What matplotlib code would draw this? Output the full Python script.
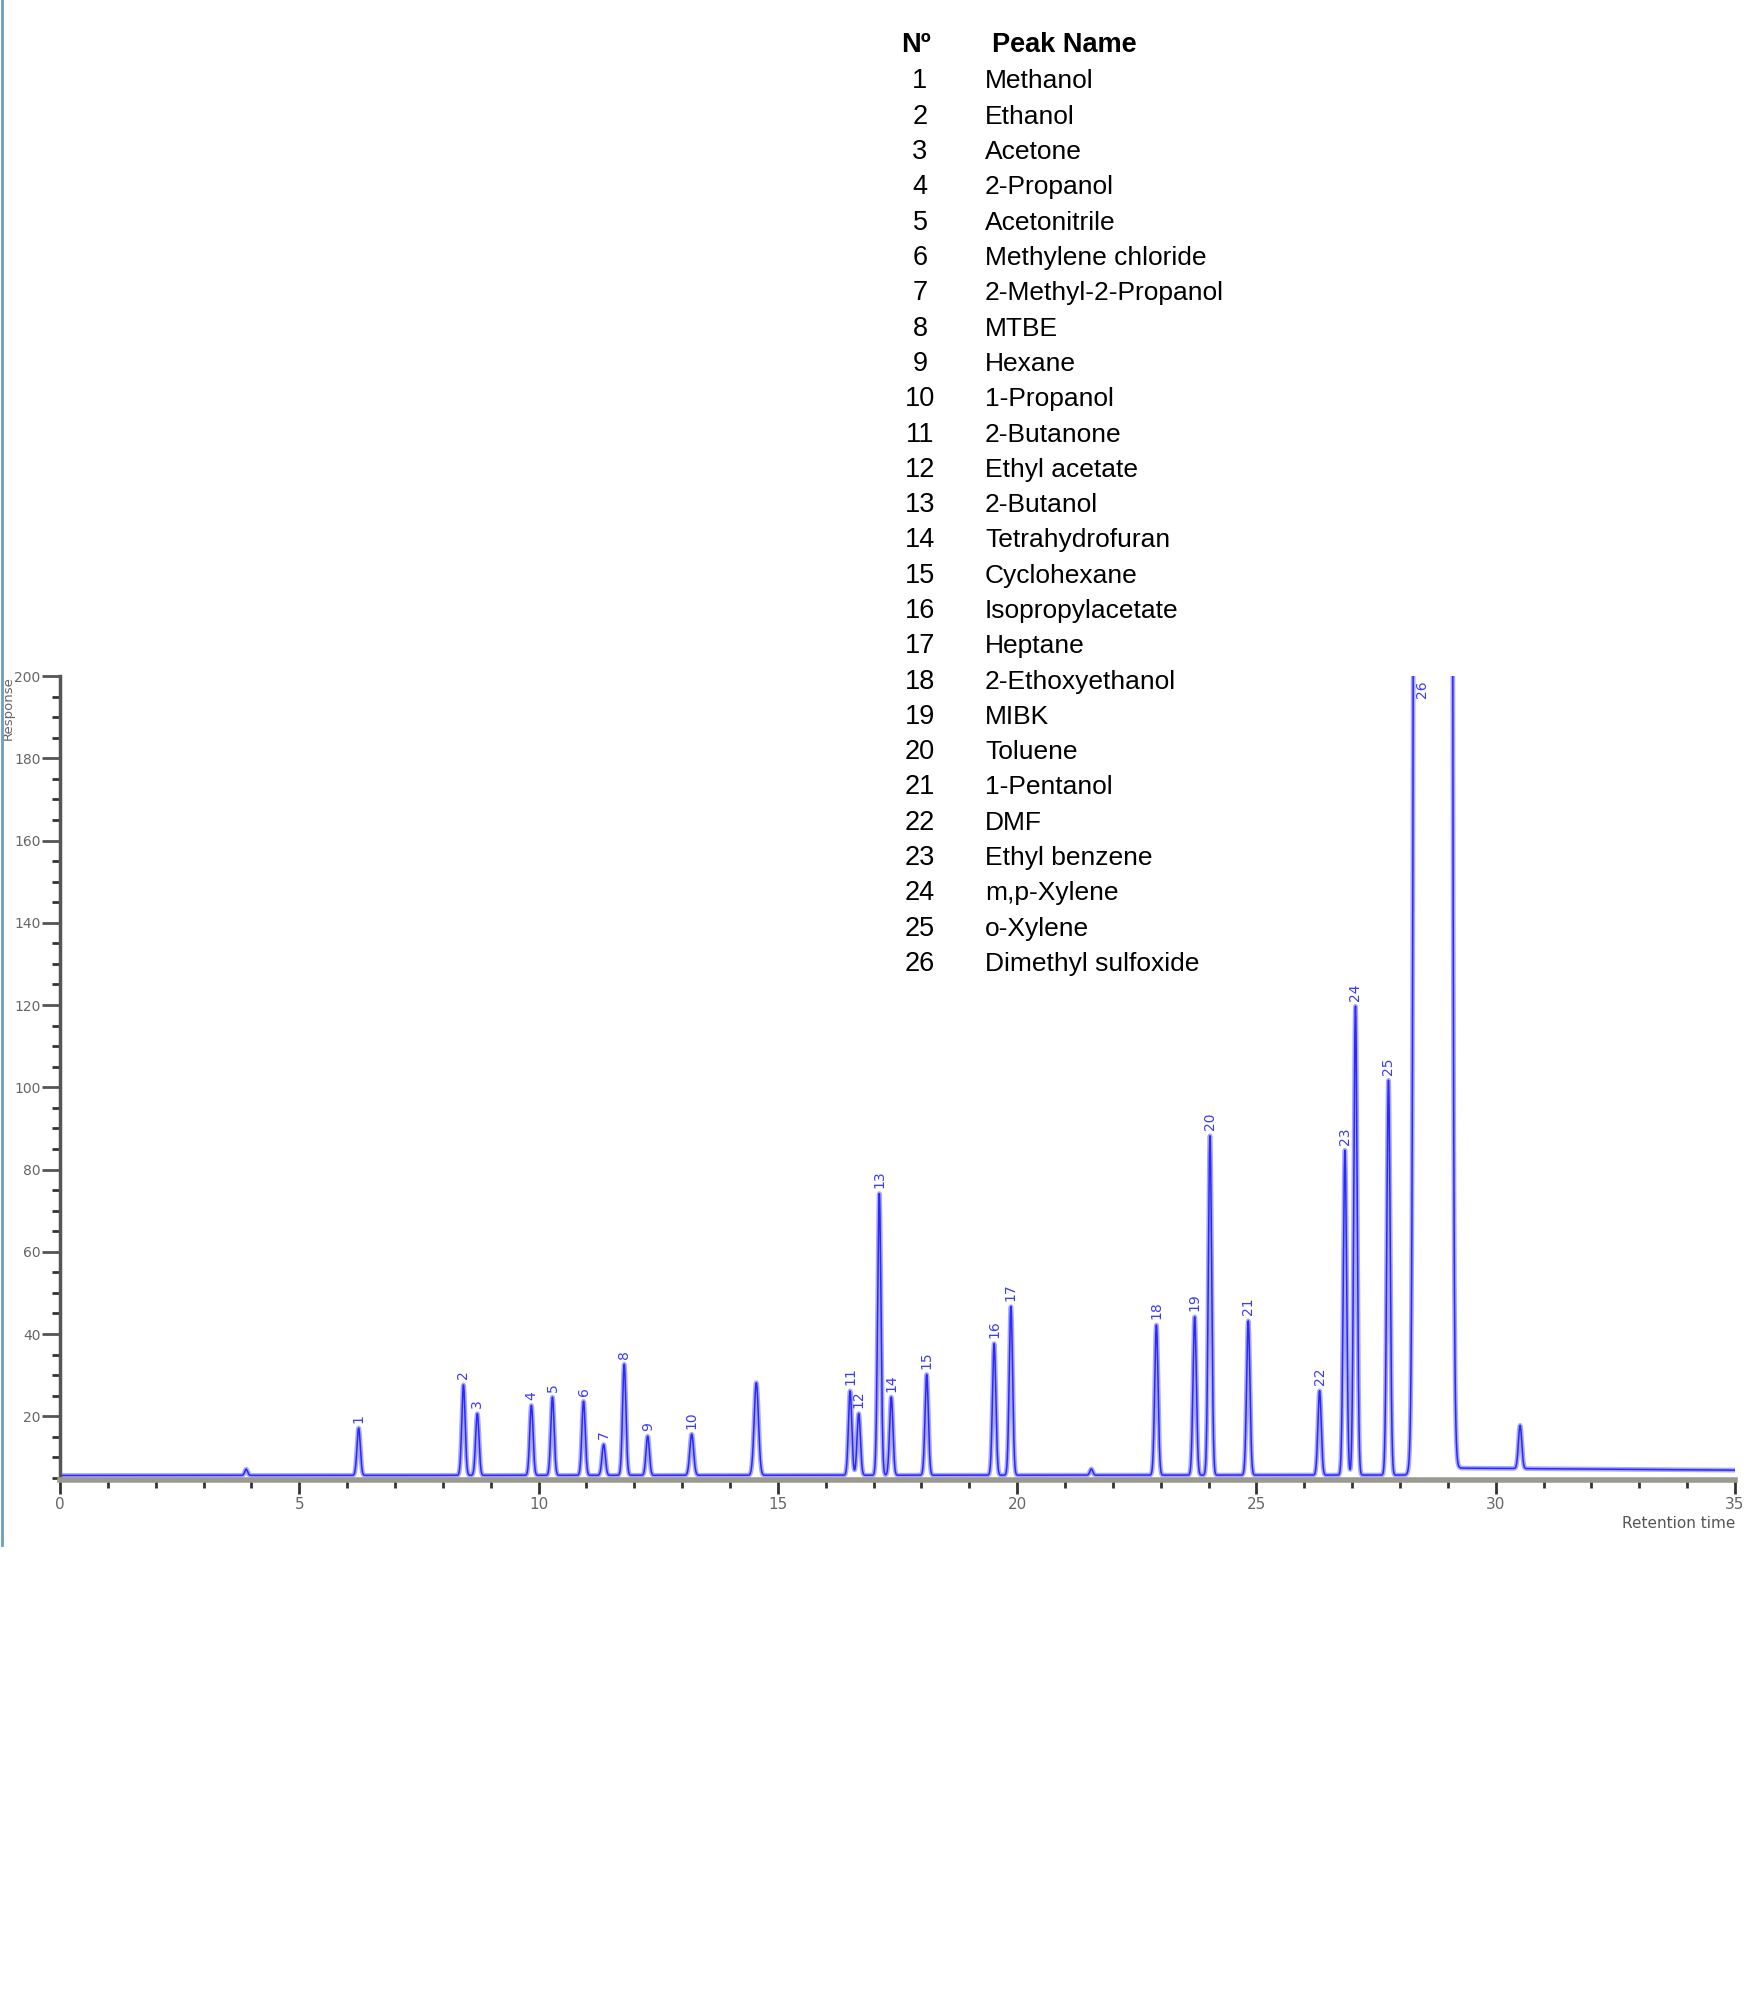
import numpy as np
import matplotlib
matplotlib.use("Agg")
import matplotlib.pyplot as plt
from matplotlib.lines import Line2D
from matplotlib.ticker import MultipleLocator

# peaks (retention time in min, response)
peak_labels = ["", "1", "2", "3", "4", "5", "6", "7", "8", "9", "10", "",
               "11", "12", "13", "14", "15", "16", "17", "",
               "18", "19", "20", "21", "22", "23", "24", "25", "26", ""]
peak_times = [3.89, 6.24, 8.43, 8.72, 9.85, 10.29, 10.94, 11.36, 11.79, 12.28, 13.2, 14.55,
              16.51, 16.69, 17.12, 17.37, 18.11, 19.52, 19.87, 21.55,
              22.91, 23.71, 24.03, 24.83, 26.32, 26.85, 27.07, 27.76, 28.69, 30.51]
peak_heights = [1.5, 11.5, 22.0, 15.0, 17.0, 19.0, 18.0, 7.5, 27.0, 9.5, 10.0, 22.5,
                20.5, 15.0, 68.5, 19.0, 24.5, 32.0, 41.0, 1.5,
                36.5, 38.5, 82.5, 37.5, 20.5, 79.0, 114.0, 96.0, 1e6, 10.5]
peak_widths = [0.03, 0.035, 0.035, 0.035, 0.035, 0.035, 0.035, 0.035, 0.035, 0.035, 0.04, 0.045,
               0.035, 0.035, 0.035, 0.035, 0.035, 0.035, 0.035, 0.03,
               0.035, 0.035, 0.035, 0.035, 0.035, 0.035, 0.035, 0.035, 0.10, 0.035]

# baseline level before / after the DMSO peak
base_times = [0, 28.2, 29.1, 35]
base_levels = [5.6, 5.7, 7.4, 6.9]

legend_no = [str(i) for i in range(1, 27)]
legend_names = ["Methanol", "Ethanol", "Acetone", "2-Propanol", "Acetonitrile",
                "Methylene chloride", "2-Methyl-2-Propanol", "MTBE", "Hexane",
                "1-Propanol", "2-Butanone", "Ethyl acetate", "2-Butanol",
                "Tetrahydrofuran", "Cyclohexane", "Isopropylacetate", "Heptane",
                "2-Ethoxyethanol", "MIBK", "Toluene", "1-Pentanol", "DMF",
                "Ethyl benzene", "m,p-Xylene", "o-Xylene", "Dimethyl sulfoxide"]

t = np.linspace(0, 35, 14001)
signal = np.interp(t, base_times, base_levels)
for tr, h, w in zip(peak_times, peak_heights, peak_widths):
    signal = signal + h * np.exp(-0.5 * ((t - tr) / w) ** 2)

fig = plt.figure(figsize=(17.5, 20), dpi=100)
ax = fig.add_axes([0.0343, 0.26, 0.9571, 0.402])

ax.plot(t, signal, color="#a8a8ff", lw=3.4, solid_joinstyle="round")
ax.plot(t, signal, color="#2828ff", lw=1.1)

ax.set_xlim(0, 35)
ax.set_ylim(4.5, 200)

for lab, tr, h in zip(peak_labels, peak_times, peak_heights):
    if not lab:
        continue
    top = min(h + np.interp(tr, base_times, base_levels), 200)
    if top >= 200:
        ax.annotate(lab, (tr - 0.37, 200), xytext=(0, -3), textcoords="offset points",
                    rotation=90, ha="left", va="top", fontsize=10, color="#3a3aff")
    else:
        ax.annotate(lab, (tr, top), xytext=(0, 4), textcoords="offset points",
                    rotation=90, ha="center", va="bottom", fontsize=10, color="#3a3aff")

ax.spines["top"].set_visible(False)
ax.spines["right"].set_visible(False)
ax.spines["left"].set_color("#555555")
ax.spines["left"].set_linewidth(2.5)
ax.spines["bottom"].set_color("#9a9a90")
ax.spines["bottom"].set_linewidth(4)

ax.xaxis.set_major_locator(MultipleLocator(5))
ax.xaxis.set_minor_locator(MultipleLocator(1))
ax.yaxis.set_major_locator(MultipleLocator(20))
ax.yaxis.set_minor_locator(MultipleLocator(5))
ax.set_yticks(np.arange(20, 201, 20))
ax.tick_params(axis="y", which="major", length=13, width=2, color="#555555",
               labelsize=10, labelcolor="#666666", pad=1)
ax.tick_params(axis="x", which="major", length=10, width=2, color="#333333",
               labelsize=11, labelcolor="#666666", pad=2)
ax.tick_params(which="minor", length=6, width=2, color="#333333")

ax.text(1.0, -0.045, "Retention time", transform=ax.transAxes, ha="right", va="top",
        fontsize=11, color="#555555")
ax.text(-0.0312, 1.0, "Response", transform=ax.transAxes, rotation=90, ha="center", va="top",
        fontsize=9.5, color="#666666")

# peak table
fnt = ["Liberation Sans Narrow", "Liberation Sans", "DejaVu Sans"]
fig.text(916 / 1750, 1 - 45.5 / 2000, "Nº", ha="center", va="center", fontsize=19.5,
         fontweight="bold", family=fnt)
fig.text(992 / 1750, 1 - 45.5 / 2000, "Peak Name", ha="left", va="center", fontsize=19.5,
         fontweight="bold", family=fnt)
for i, (n, name) in enumerate(zip(legend_no, legend_names)):
    y = 1 - (81.5 + i * 35.3) / 2000
    fig.text(920 / 1750, y, n, ha="center", va="center", fontsize=19.5, family=fnt)
    fig.text(985 / 1750, y, name, ha="left", va="center", fontsize=19, family=fnt)

fig.add_artist(Line2D([0.0012, 0.0012], [1, 1 - 1545 / 2000], transform=fig.transFigure,
                      color="#6f9fbf", lw=2))

fig.savefig("out.png", dpi=100)
